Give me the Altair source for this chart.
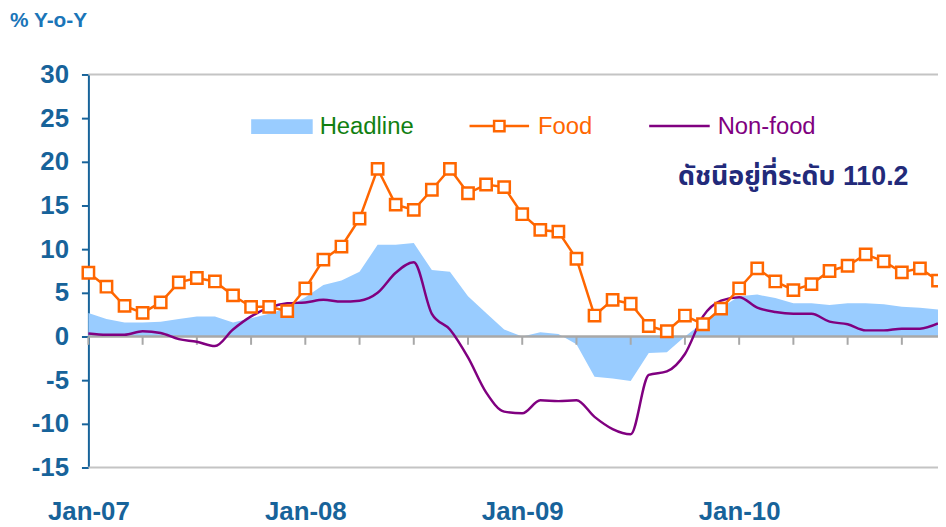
import json
import altair as alt
import pandas as pd

# ---- data (monthly, Jan-07 .. Dec-10), % Y-o-Y ----
month_names = ["Jan", "Feb", "Mar", "Apr", "May", "Jun",
               "Jul", "Aug", "Sep", "Oct", "Nov", "Dec"]
years = ["07", "08", "09", "10"]
months = [f"{m}-{y}" for y in years for m in month_names]

headline = [2.7, 2.0, 1.6, 1.6, 1.7, 2.0, 2.3, 2.3, 1.6, 2.1, 2.6, 3.3,
            4.5, 5.9, 6.4, 7.4, 10.5, 10.5, 10.7, 7.6, 7.4, 4.6, 2.7, 0.8,
            0.0, 0.5, 0.3, -0.9, -4.6, -4.8, -5.1, -1.9, -1.8, 0.0, 1.6, 3.3,
            4.6, 4.8, 4.4, 3.8, 3.8, 3.6, 3.8, 3.8, 3.7, 3.4, 3.3, 3.1]
food = [7.3, 5.7, 3.5, 2.7, 3.9, 6.2, 6.7, 6.3, 4.7, 3.4, 3.4, 2.9,
        5.5, 8.8, 10.3, 13.5, 19.2, 15.1, 14.5, 16.8, 19.2, 16.4, 17.4, 17.1,
        14.0, 12.2, 12.0, 8.9, 2.4, 4.2, 3.75, 1.2, 0.6, 2.4, 1.4, 3.2,
        5.5, 7.8, 6.3, 5.3, 6.0, 7.5, 8.1, 9.4, 8.6, 7.35, 7.8, 6.4]
nonfood = [0.35, 0.2, 0.2, 0.6, 0.4, -0.3, -0.6, -1.1, 0.8, 2.3, 3.3, 3.8,
           3.9, 4.2, 4.0, 4.1, 5.0, 7.3, 8.5, 2.6, 0.8, -2.4, -6.4, -8.6,
           -8.8, -7.3, -7.4, -7.3, -9.2, -10.6, -11.2, -4.4, -4.0, -2.0, 2.3, 4.1,
           4.5, 3.3, 2.8, 2.6, 2.6, 1.7, 1.4, 0.7, 0.7, 0.9, 0.9, 1.5]

tick_labels = ["Jan-07", "Jan-08", "Jan-09", "Jan-10"]
tick_pos = [0, 12, 24, 36]
y_ticks = [-15, -10, -5, 0, 5, 10, 15, 20, 25, 30]
note_text = "ดัชนีอยู่ที่ระดับ 110.2"

df = pd.DataFrame({"i": list(range(len(months))), "month": months,
                   "headline": headline, "food": food, "nonfood": nonfood})
minor_ticks = pd.DataFrame({"i": [k for k in range(0, len(months), 3)]})
borders = pd.DataFrame({"v": [y_ticks[0], y_ticks[-1]]})
zero = pd.DataFrame({"v": [0]})
one = pd.DataFrame({"a": [0]})

# ---- styles ----
BLUE = "#17639a"
ORANGE = "#ff6600"
PURPLE = "#800080"
AREA = "#99ccff"
GREEN = "#118011"
FONT = "Liberation Sans, Arial, sans-serif"
W, H = 856, 396

xscale = alt.Scale(domain=[0, len(months) - 1], nice=False, zero=False)
yscale = alt.Scale(domain=[y_ticks[0], y_ticks[-1]], nice=False)
xaxis = alt.Axis(values=tick_pos, labelExpr=f"{json.dumps(tick_labels)}[datum.value/12]",
                 ticks=False, domain=False, grid=False, title=None,
                 labelFont=FONT, labelFontSize=26, labelFontWeight="bold",
                 labelColor=BLUE, labelPadding=52, labelBaseline="alphabetic",
                 labelAlign="center")
yaxis = alt.Axis(values=y_ticks, labelExpr="datum.value + ''", grid=False, title=None,
                 labelFont=FONT, labelFontSize=26, labelFontWeight="bold",
                 labelColor=BLUE, domainColor=BLUE, domainWidth=2, tickColor=BLUE,
                 tickSize=7, tickWidth=2, labelPadding=13)


def X(f="i:Q"):
    return alt.X(f, scale=xscale, axis=xaxis)


def Y(f):
    return alt.Y(f, scale=yscale, axis=yaxis)


area = alt.Chart(df).mark_area(color=AREA, opacity=1).encode(
    x=X(), y=Y("headline:Q"), y2=alt.datum(0))

border_rules = alt.Chart(borders).mark_rule(color="#c4c4c4", strokeWidth=2).encode(
    y=Y("v:Q"))
zero_rule = alt.Chart(zero).mark_rule(color="#a8a8a8", strokeWidth=2.5).encode(
    y=Y("v:Q"))
zero_ticks = alt.Chart(minor_ticks).mark_rule(color="#a8a8a8", strokeWidth=2).encode(
    x=X(), y=alt.datum(0), y2=alt.datum(-0.95))

nf_line = alt.Chart(df).mark_line(color=PURPLE, strokeWidth=2.5,
                                  interpolate="monotone").encode(
    x=X(), y=Y("nonfood:Q"))
food_line = alt.Chart(df).mark_line(color=ORANGE, strokeWidth=2.5).encode(
    x=X(), y=Y("food:Q"))
food_pts = alt.Chart(df).mark_point(shape="square", filled=True, fill="white",
                                    stroke=ORANGE, strokeWidth=2.5, size=130,
                                    opacity=1).encode(x=X(), y=Y("food:Q"))

# ---- legend & annotations ----
leg_rect = alt.Chart(one).mark_rect(color=AREA).encode(
    x=alt.value(164), x2=alt.value(226), y=alt.value(45), y2=alt.value(60))
leg_head = alt.Chart(one).mark_text(text="Headline", align="left", baseline="alphabetic",
                                    font=FONT, fontSize=24, color=GREEN).encode(
    x=alt.value(233), y=alt.value(60))
leg_food_line = alt.Chart(one).mark_rule(color=ORANGE, strokeWidth=2.5).encode(
    x=alt.value(384), x2=alt.value(444), y=alt.value(52))
leg_food_pt = alt.Chart(one).mark_point(shape="square", filled=True, fill="white",
                                        stroke=ORANGE, strokeWidth=2.5, size=110,
                                        opacity=1).encode(x=alt.value(414), y=alt.value(52))
leg_food = alt.Chart(one).mark_text(text="Food", align="left", baseline="alphabetic",
                                    font=FONT, fontSize=24, color=ORANGE).encode(
    x=alt.value(453), y=alt.value(60))
leg_nf_line = alt.Chart(one).mark_rule(color=PURPLE, strokeWidth=2.5).encode(
    x=alt.value(565), x2=alt.value(626), y=alt.value(52))
leg_nf = alt.Chart(one).mark_text(text="Non-food", align="left", baseline="alphabetic",
                                  font=FONT, fontSize=24, color=PURPLE).encode(
    x=alt.value(634), y=alt.value(60))
note = alt.Chart(one).mark_text(text=note_text, align="left", baseline="alphabetic",
                                font="Liberation Sans, Noto Sans Thai, Tahoma, sans-serif",
                                fontSize=27, fontWeight="bold", color="#222a7a").encode(
    x=alt.value(594), y=alt.value(111))
unit = alt.Chart(one).mark_text(text="% Y-o-Y", align="left", baseline="alphabetic",
                                font=FONT, fontSize=21, fontWeight="bold",
                                color="#1a75b8").encode(
    x=alt.value(-79), y=alt.value(-48))

chart = alt.layer(
    area, border_rules, zero_rule, zero_ticks, nf_line, food_line, food_pts,
    leg_rect, leg_head, leg_food_line, leg_food_pt, leg_food, leg_nf_line, leg_nf,
    note, unit
).properties(
    width=W, height=H,
    autosize=alt.AutoSizeParams(type="none"),
    padding={"left": 81, "top": 65, "right": 0, "bottom": 62},
    background="white",
).configure_view(stroke=None)

chart.save("out.html", embed_options={"renderer": "svg", "actions": False})
